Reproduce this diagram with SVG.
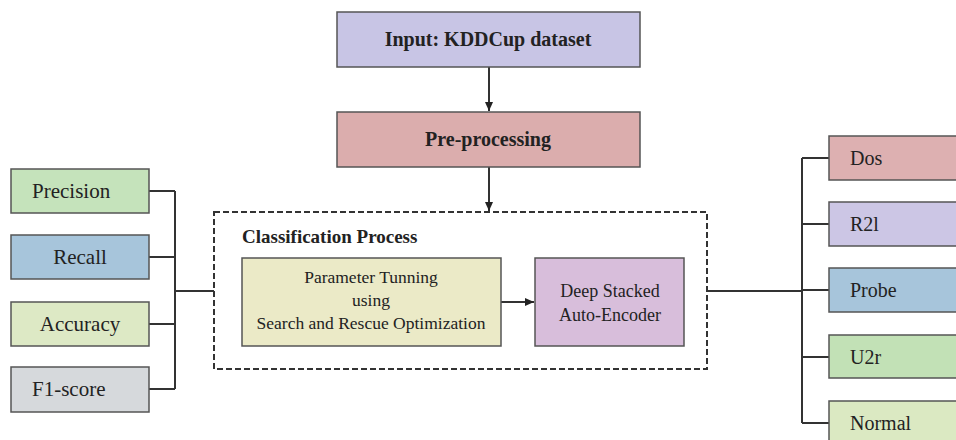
<svg xmlns="http://www.w3.org/2000/svg" width="956" height="440" viewBox="0 0 956 440">
<style>
.box{stroke:#555;stroke-width:1.5}
.t{font-family:"Liberation Serif","Times New Roman",serif;fill:#222}
.b{font-weight:bold}
.c{text-anchor:middle}
.ln{stroke:#333;stroke-width:2;fill:none}
</style>
<defs>
<marker id="ah" markerWidth="10" markerHeight="10" refX="9" refY="5" orient="auto" markerUnits="userSpaceOnUse">
<path d="M0,1 L9,5 L0,9 Z" fill="#222"/>
</marker>
</defs>
<rect width="956" height="440" fill="#fff"/>

<g id="connectors">
<line class="ln" x1="489" y1="67" x2="489" y2="111" marker-end="url(#ah)"/>
<line class="ln" x1="489" y1="167" x2="489" y2="211" marker-end="url(#ah)"/>
<line class="ln" x1="501" y1="302" x2="534" y2="302" marker-end="url(#ah)"/>
<path class="ln" d="M149,191 H175 M149,257 H175 M149,324 H175 M149,389 H175 M175,191 V389 M175,291 H214"/>
<path class="ln" d="M707,291 H802 M802,158 V423 M802,158 H829 M802,224 H829 M802,290 H829 M802,357 H829 M802,423 H829"/>
</g>

<g id="input">
<rect class="box" x="337" y="12" width="303" height="55" fill="#c8c5e5"/>
<text class="t b c" x="488" y="46" font-size="20">Input: KDDCup dataset</text>
</g>
<g id="preprocessing">
<rect class="box" x="337" y="112" width="303" height="55" fill="#dbadad"/>
<text class="t b c" x="488" y="146" font-size="20">Pre-processing</text>
</g>

<g id="classification">
<rect x="214" y="212" width="493" height="157" fill="none" stroke="#333" stroke-width="2" stroke-dasharray="6,3"/>
<text class="t b" x="242" y="243" font-size="19">Classification Process</text>
</g>
<g id="param">
<rect class="box" x="242" y="258" width="259" height="88" fill="#ebeac7"/>
<text class="t c" x="371" y="283" font-size="17.5">Parameter Tunning</text>
<text class="t c" x="371" y="306" font-size="17.5">using</text>
<text class="t c" x="371" y="329" font-size="17.5">Search and Rescue Optimization</text>
</g>
<g id="dsae">
<rect class="box" x="535" y="258" width="149" height="88" fill="#d8bedb"/>
<text class="t c" x="610" y="297" font-size="18">Deep Stacked</text>
<text class="t c" x="610" y="321" font-size="18">Auto-Encoder</text>
</g>

<g id="precision">
<rect class="box" x="11" y="169" width="138" height="44" fill="#c5e3bb"/>
<text class="t" x="32" y="198" font-size="21">Precision</text>
</g>
<g id="recall">
<rect class="box" x="11" y="235" width="138" height="44" fill="#a7c5db"/>
<text class="t c" x="80" y="264" font-size="21">Recall</text>
</g>
<g id="accuracy">
<rect class="box" x="11" y="302" width="138" height="44" fill="#dde9c5"/>
<text class="t c" x="80" y="331" font-size="21">Accuracy</text>
</g>
<g id="f1score">
<rect class="box" x="11" y="367" width="138" height="45" fill="#d6d9dc"/>
<text class="t" x="32" y="396" font-size="21">F1-score</text>
</g>

<g id="dos">
<rect class="box" x="829" y="136" width="140" height="44" fill="#ddb0b1"/>
<text class="t" x="850" y="165" font-size="20">Dos</text>
</g>
<g id="r2l">
<rect class="box" x="829" y="202" width="140" height="44" fill="#ccc6e5"/>
<text class="t" x="850" y="231" font-size="20">R2l</text>
</g>
<g id="probe">
<rect class="box" x="829" y="268" width="140" height="44" fill="#a7c5db"/>
<text class="t" x="850" y="297" font-size="20">Probe</text>
</g>
<g id="u2r">
<rect class="box" x="829" y="335" width="140" height="43" fill="#c2e1b6"/>
<text class="t" x="850" y="364" font-size="20">U2r</text>
</g>
<g id="normal">
<rect class="box" x="829" y="401" width="140" height="50" fill="#dbe9c2"/>
<text class="t" x="850" y="430" font-size="20">Normal</text>
</g>
</svg>
